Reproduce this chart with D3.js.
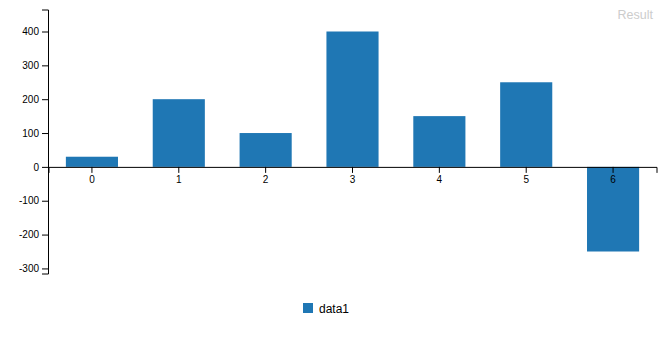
<!DOCTYPE html>
<html>
<head>
<meta charset="utf-8">
<script src="https://d3js.org/d3.v7.min.js"></script>
<style>
  body { margin: 0; background: #fff; }
  svg { font-family: "Liberation Sans", Arial, sans-serif; }
  .tick text { font-size: 10px; fill: #000; }
</style>
</head>
<body>
<div id="chart"></div>
<script>
// chart data
var categories = ["0", "1", "2", "3", "4", "5", "6"];
var data1 = [30, 200, 100, 400, 150, 250, -250];
var yTicks = [-300, -200, -100, 0, 100, 200, 300, 400];
var seriesName = "data1";
var titleText = "Result";

var svgWidth = 662;
var svgHeight = 340;

var svg = d3.select("#chart")
  .append("svg")
  .attr("width", svgWidth)
  .attr("height", svgHeight);

// scales
var xScale = d3.scaleBand()
  .domain(categories)
  .range([48.5, 656.5])
  .padding(0);

var yScale = d3.scaleLinear()
  .domain([-315, 465])
  .range([273.5, 9.5]);

// bars
svg.selectAll("rect.bar")
  .data(data1)
  .enter()
  .append("rect")
  .attr("class", "bar")
  .attr("x", (d, i) => xScale(categories[i]) + xScale.bandwidth() * 0.2)
  .attr("width", xScale.bandwidth() * 0.6)
  .attr("y", d => yScale(Math.max(0, d)))
  .attr("height", d => Math.abs(yScale(d) - yScale(0)))
  .attr("fill", "#1f77b4");

// axes (plain hyphen for negatives, like the original)
var yAxis = d3.axisLeft(yScale).tickValues(yTicks).tickSize(6).tickPadding(3)
  .tickFormat(d => String(d));
var xAxis = d3.axisBottom(xScale).tickSize(6).tickPadding(3);

svg.append("g")
  .attr("transform", `translate(0, ${yScale(0)})`)
  .call(xAxis)
  .selectAll("path, line").attr("stroke", "#000");

svg.append("g")
  .attr("transform", "translate(48, 0)")
  .call(yAxis)
  .selectAll("path, line").attr("stroke", "#000");

svg.selectAll(".domain").attr("fill", "none");

// title in top right
svg.append("text")
  .attr("x", 653)
  .attr("y", 19)
  .attr("text-anchor", "end")
  .style("font-size", "12.5px")
  .attr("fill", "#ccc")
  .text(titleText);

// legend
var legend = svg.append("g").attr("transform", "translate(303, 303)");
legend.append("rect")
  .attr("width", 10)
  .attr("height", 10)
  .attr("fill", "#1f77b4");
legend.append("text")
  .attr("x", 16)
  .attr("y", 9.5)
  .style("font-size", "12px")
  .attr("fill", "#000")
  .text(seriesName);
</script>
</body>
</html>
